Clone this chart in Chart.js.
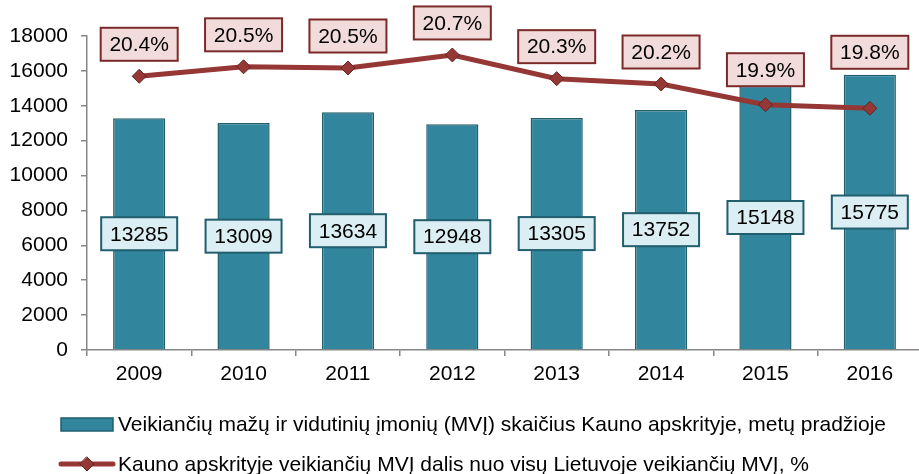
<!DOCTYPE html>
<html>
<head>
<meta charset="utf-8">
<script src="https://cdn.jsdelivr.net/npm/chart.js@4"></script>
<style>
  html, body { margin: 0; padding: 0; background: #fff; overflow: hidden; }
  #wrap { width: 930px; height: 474px; position: relative; }
</style>
</head>
<body>
<div id="wrap"><canvas id="chart"></canvas></div>
<script>
const years = ['2009', '2010', '2011', '2012', '2013', '2014', '2015', '2016'];
const smeCount = [13285, 13009, 13634, 12948, 13305, 13752, 15148, 15775];
const smeShare = [20.36, 20.52, 20.5, 20.72, 20.32, 20.23, 19.88, 19.82];
const yTicks = [0, 2000, 4000, 6000, 8000, 10000, 12000, 14000, 16000, 18000];

const barLabel = 'Veikiančių mažų ir vidutinių įmonių (MVĮ) skaičius Kauno apskrityje, metų pradžioje';
const lineLabel = 'Kauno apskrityje veikiančių MVĮ dalis nuo visų Lietuvoje veikiančių MVĮ, %';

const FONT = '"Liberation Sans", Arial, sans-serif';
const BAR_FILL = '#31859c';
const BAR_EDGE = '#215e6e';
const LINE_COL = '#953735';
const LINE_EDGE = '#632523';

function box(ctx, cx, cy, w, h, fill, edge, text) {
  ctx.fillStyle = fill;
  ctx.fillRect(cx - w / 2, cy - h / 2, w, h);
  ctx.lineWidth = 2;
  ctx.strokeStyle = edge;
  ctx.strokeRect(cx - w / 2, cy - h / 2, w, h);
  ctx.fillStyle = '#000';
  ctx.textAlign = 'center';
  ctx.textBaseline = 'middle';
  ctx.fillText(text, cx, cy + 1);
}

const labelPlugin = {
  id: 'boxLabels',
  afterDatasetsDraw(chart, args, opts) {
    const ctx = chart.ctx;
    ctx.save();
    ctx.font = '21px ' + FONT;
    const bars = chart.getDatasetMeta(1).data;
    bars.forEach((b, i) => {
      box(ctx, b.x, (b.y + b.base) / 2, 76, 33, '#dbeef3', BAR_EDGE, String(smeCount[i]));
    });
    const pts = chart.getDatasetMeta(0).data;
    pts.forEach((p, i) => {
      const lift = 32 + (opts.extraLift[i] || 0);
      box(ctx, p.x, p.y - lift, 77, 33, '#f2dcdb', '#7a2a28', smeShare[i].toFixed(1) + '%');
    });
    ctx.restore();
  }
};

const legendPlugin = {
  id: 'customLegend',
  afterDraw(chart) {
    const ctx = chart.ctx;
    ctx.save();
    ctx.font = '21px ' + FONT;
    ctx.textAlign = 'left';
    ctx.textBaseline = 'middle';
    // bar item
    ctx.fillStyle = BAR_FILL;
    ctx.fillRect(61, 418, 52, 13);
    ctx.strokeStyle = BAR_EDGE;
    ctx.lineWidth = 1.5;
    ctx.strokeRect(61, 418, 52, 13);
    ctx.fillStyle = '#000';
    ctx.fillText(barLabel, 118, 425);
    // line item
    ctx.strokeStyle = LINE_COL;
    ctx.lineWidth = 5;
    ctx.lineCap = 'round';
    ctx.beginPath();
    ctx.moveTo(61, 464);
    ctx.lineTo(113, 464);
    ctx.stroke();
    ctx.fillStyle = LINE_COL;
    ctx.strokeStyle = LINE_EDGE;
    ctx.lineWidth = 1;
    ctx.beginPath();
    ctx.moveTo(87, 457);
    ctx.lineTo(94, 464);
    ctx.lineTo(87, 471);
    ctx.lineTo(80, 464);
    ctx.closePath();
    ctx.fill();
    ctx.stroke();
    ctx.fillStyle = '#000';
    ctx.fillText(lineLabel, 118, 465);
    ctx.restore();
  }
};

new Chart(document.getElementById('chart'), {
  data: {
    labels: years,
    datasets: [
      {
        type: 'line',
        label: lineLabel,
        data: smeShare,
        yAxisID: 'y2',
        order: 0,
        borderColor: LINE_COL,
        borderWidth: 5,
        tension: 0,
        pointStyle: 'rectRot',
        pointRadius: 7,
        pointBackgroundColor: LINE_COL,
        pointBorderColor: LINE_EDGE,
        pointBorderWidth: 1
      },
      {
        type: 'bar',
        label: barLabel,
        data: smeCount,
        yAxisID: 'y',
        order: 1,
        backgroundColor: BAR_FILL,
        borderColor: BAR_EDGE,
        borderWidth: 1.5,
        barPercentage: 0.5,
        categoryPercentage: 1
      }
    ]
  },
  options: {
    responsive: true,
    maintainAspectRatio: false,
    animation: false,
    layout: { padding: { top: 36, right: 1, bottom: 84, left: 0 } },
    plugins: {
      legend: { display: false },
      tooltip: { enabled: false },
      boxLabels: { extraLift: [0, 0, 0, 0, 0, 0, 3, 24] }
    },
    scales: {
      x: {
        offset: true,
        grid: { offset: true, drawOnChartArea: false, tickLength: 6, color: '#868686', lineWidth: 1.5 },
        border: { color: '#868686', width: 1.5 },
        ticks: { color: '#000', font: { family: FONT, size: 21 }, padding: 6 },
        afterFit(s) { s.height = 40; }
      },
      y: {
        min: 0,
        max: 18000,
        afterBuildTicks(s) { s.ticks = yTicks.map(v => ({ value: v })); },
        grid: { drawOnChartArea: false, tickLength: 6, color: '#868686', lineWidth: 1.5 },
        border: { color: '#868686', width: 1.5 },
        ticks: {
          color: '#000',
          font: { family: FONT, size: 21 },
          padding: 13,
          callback: v => String(v)
        },
        afterFit(s) { s.width = 87; }
      },
      y2: {
        display: false,
        min: 15.74,
        max: 21.04
      }
    }
  },
  plugins: [labelPlugin, legendPlugin]
});
</script>
</body>
</html>
